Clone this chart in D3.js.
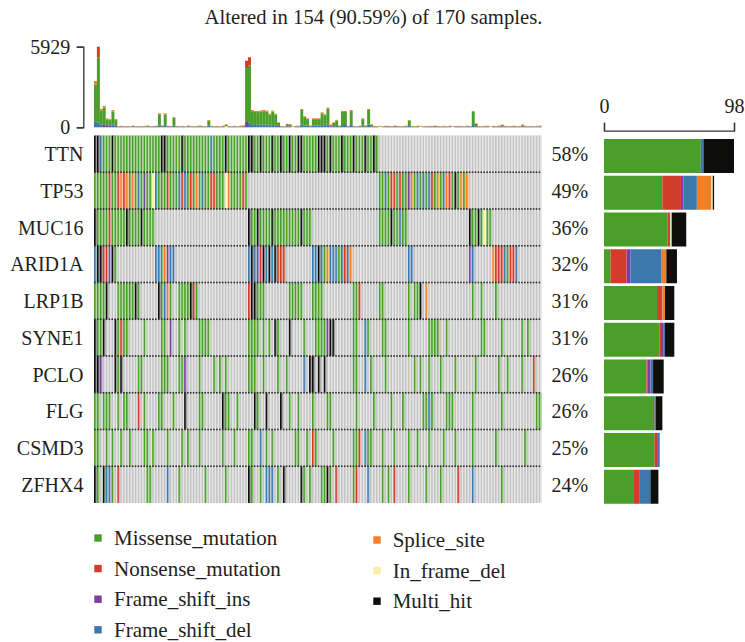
<!DOCTYPE html>
<html>
<head>
<meta charset="utf-8">
<script src="https://cdn.jsdelivr.net/npm/d3@7"></script>
<style>
  body { margin: 0; background: #fff; }
  svg text { font-family: "Liberation Serif", "DejaVu Serif", serif; fill: #231f20; }
</style>
</head>
<body>
<div id="chart"></div>
<script>
// genes shown in the oncoplot, top to bottom
const genes = ["TTN", "TP53", "MUC16", "ARID1A", "LRP1B", "SYNE1", "PCLO", "FLG", "CSMD3", "ZFHX4"];
const pctAltered = [58, 49, 36, 32, 31, 31, 26, 26, 25, 24];
const sampleCount = 154;
const topMax = 5929;
const rightMax = 98;

// variant classes (code -> name / colour)
const typeCodes = ["M", "N", "I", "D", "S", "F", "X"];
const typeNames = ["Missense_mutation", "Nonsense_mutation", "Frame_shift_ins", "Frame_shift_del",
                   "Splice_site", "In_frame_del", "Multi_hit"];
const typeColors = ["#4A9E2A", "#D33B2B", "#7B3F9E", "#3D78AC", "#F27E26", "#F8F1A4", "#0E0F0D"];

// one string per gene, one character per sample ('.' = not mutated)
const mutRows = [
  "XXDMMMXMMM MMMMMMMMMM MMMXXMMMMM XMMMMMMMMM DMMMMXMMMM MMMXXMMXMM MXMMXMMXMM XXMMMMMXXX MXMMMXMMMX MMMXMMXM.. .......... .......... .......... .......... .......... ....",
  "MMMMMNMMNS NSMSMDMIMM FDMMMNMMMD NDMNMSMDMM NNMMMFSMMM MNM....... .......... .......... .......... ........MM DMNNMNMMIS MDMDMDNMSM DSNMXMSMS. .......... .......... ....",
  "XMMMMNMMMM MXMMMMXMMM M......... .......... .......... ...XMMXMMM MXMMMMMMMM MXMMM..... .......... ........MM MMXMMDMM.. .......... .........X MMXMFMM... .......... ....",
  "DXXNNDXM.. .......... .DDMSIDD.. .......... .......... ...DXDINXD XDXNNN.... .....DDXDM SDDDMDNDS. .......... ........DD .......... .........I D......SNN NDMNND.... ....",
  "MMMMX...MM MMMMXM.... ..XMDSM..M MMMXNM.... .......... ...NXXMMM. .......MMM MM...MMMM. .........M MN......MM ........M. MMX.S..... .......... M..M....M. .......... ....",
  "XMMX...XMN MM.....M.. ...MM.I..M .M....MMMM .......... ...MMMM.M. M.XM...X.. ..M...MMMM IXX......M M..DM....M M.......M. .....MMMM. .M........ ...MM..... M......M.M ....",
  "XXI....XMX .....MM... ...MMM...M MI....M... .M.M.M.... ...MMM..M. ...M..M... ..D.XX.X.X .........M M..D.M.... M......... M.M..M...M ....M..... .M.......M ..M....M.. .N..",
  "MM.MMM..M. MM...N.M.. ..MM...M.. .X....MM.. ....XMM..M .....XM..X ....X..M.. M....M.... MM........ M.....M... ..M...M... ...MMDM... .MMM...... M......... M......... ..MM",
  "MM..M.M..M ..M....MM. M....M.... M.M...M... ....M...M. ...MM..D.M .M.......M M..M.NM... ..M......M MN.DMM...M ...M....M. .M...M.... M...M..... M.......M. ........M. ....",
  "XM.XDDM.N. ........MM .....D...M ........M. .....M.... ...XM..M.D DD.M.X.... .XM.M...MM XM.N.....M N...D....M .M.N....M. ....M....M .....N.... D......... M......... ...."
].map(s => s.replace(/ /g, ""));

// top bar: mutations per sample (bottom frame-shift part, missense, top truncating part)
const tmbLow = [400,350,200,220,150,140,200,140,50,60, 40,50,40,60,40,50,50,50,60,40,
  50,50,150,60,150,50,50,120,50,40, 50,40,50,50,40,50,60,50,40,100, 50,40,50,40,50,70,40,50,50,40,
  50,60,450,350,180,170,180,180,200,180, 150,180,150,90,50,40,70,70,40,50, 50,200,130,120,60,120,120,120,160,150,
  200,70,90,100,50,170,170,50,180,50, 40,50,120,60,200,70,50,40,50,40, 50,50,40,60,50,40,50,50,100,50,
  40,50,50,40,50,40,50,60,50,40, 50,40,50,50,40,50,50,40,50,50, 170,80,50,40,50,50,40,50,40,60,
  70,50,40,50,50,40,50,70,50,40, 50,40,50,50];
const tmbMis = [2750,4800,1050,1230,430,390,970,390,20,30, 20,30,30,30,20,25,20,30,50,30,
  30,40,810,60,800,40,30,560,30,30, 30,20,40,30,30,30,40,30,30,390, 30,30,30,20,40,110,30,30,30,20,
  40,60,3900,4200,1010,950,940,990,990,970, 780,970,780,240,30,30,140,140,30,30, 40,1070,620,480,60,480,480,480,870,740,
  1160,90,240,400,40,960,960,30,1010,30, 30,40,480,60,1070,110,30,30,30,20, 40,30,30,40,30,30,30,40,390,30,
  30,40,30,20,30,30,30,40,30,30, 30,20,40,30,30,30,30,20,40,30, 960,180,30,30,30,40,20,30,30,40,
  90,30,30,30,40,20,30,90,30,30, 30,20,30,40];
const tmbHigh = [250,779,100,120,80,70,100,70,20,20, 20,20,20,30,20,25,20,30,30,20,
  20,30,70,30,80,30,20,60,30,20, 20,20,30,20,20,30,30,20,20,50, 30,20,20,20,30,40,20,20,30,20,
  30,30,550,600,80,80,80,80,80,80, 70,80,70,40,20,20,40,40,20,30, 30,75,60,60,30,60,60,60,70,60,
  80,40,40,50,30,70,70,20,80,30, 20,30,60,30,80,40,20,20,30,20, 30,20,20,30,30,20,20,30,50,20,
  20,30,30,20,20,20,30,30,20,20, 30,20,30,20,20,30,20,20,30,20, 70,40,20,20,30,30,20,20,20,30,
  40,30,20,20,30,20,20,40,30,20, 20,20,30,30];
const lowType  = "DDDIIIDIII IIDIIIIDII IIDIDIIDII IIIDIIIIID IIIIIFIIII IIIDDDDDDD DDDIIIIIFI IDDDIDDDDD DIDDIDDIDI IIDIDIIIFI IIIIIIIIDI IIFIIIIIII IIIFIIIIII DIIIIIFIII IIIIIIIIII IIII".replace(/ /g, "");
const highType = "SNSSSSSSSS SSSNSSSSSS SSSSSSSSSS SSNSSSSSSS SSSSSSSSSS SSNNSSSSSS SSSSSSNSSS SSSSSSSSSS SSSSNSSSSS SSSSSSSSSS SNSSSSSSSS SSSSSNSSSS SSSSNSSSSS SSSSSSSNSS SSSSSNSSSS SSSS".replace(/ /g, "");

// right bar: counts per gene for each class
const rightM = [73, 44, 48, 5, 40, 42, 32, 37, 38, 22];
const rightN = [0, 14, 1, 12, 3, 1, 1, 1, 2, 5];
const rightI = [0, 2, 0, 3, 0, 2, 2, 0, 0, 0];
const rightD = [2, 10, 1, 23, 1, 1, 2, 1, 2, 8];
const rightS = [0, 11, 0, 4, 2, 0, 0, 0, 0, 0];
const rightF = [0, 1, 1, 0, 0, 0, 0, 0, 0, 0];
const rightX = [23, 1, 11, 8, 7, 7, 8, 5, 0, 6];

const legendLeft = ["M", "N", "I", "D"];
const legendRight = ["S", "F", "X"];

const width = 745, height = 642;
const svg = d3.select('#chart').append('svg')
              .attr('width', width)
              .attr('height', height);

const colorOf = d3.scaleOrdinal().domain(typeCodes).range(typeColors);
const nameOf = d3.scaleOrdinal().domain(typeCodes).range(typeNames);

const x = d3.scaleBand().domain(d3.range(sampleCount)).range([94, 541.5]);
const y = d3.scaleBand().domain(genes).range([135.5, 503]);
const yTop = d3.scaleLinear().domain([0, topMax]).range([127.3, 46.7]);
const xRight = d3.scaleLinear().domain([0, rightMax]).range([604, 734]);

// title
svg.append('text')
   .attr('x', 373.5).attr('y', 24)
   .attr('text-anchor', 'middle')
   .style('font-size', '20.7px')
   .text('Altered in 154 (90.59%) of 170 samples.');

// oncoplot cells
genes.forEach((g, gi) => {
  svg.append('g').selectAll('rect')
     .data(mutRows[gi].split(''))
     .enter().append('rect')
     .attr('x', (d, i) => x(i))
     .attr('y', y(g))
     .attr('width', x.bandwidth() + 0.05)
     .attr('height', y.bandwidth())
     .attr('fill', d => d === '.' ? '#C3C3C3' : colorOf(d));
});

// light gaps between sample columns
svg.append('g').selectAll('rect')
   .data(d3.range(sampleCount))
   .enter().append('rect')
   .attr('x', i => x(i) + x.bandwidth() - 1.3)
   .attr('y', y.range()[0])
   .attr('width', 1.3)
   .attr('height', y.range()[1] - y.range()[0])
   .attr('fill', '#fff')
   .attr('opacity', 0.62);

// dashed row separators
genes.slice(1).forEach(g => {
  svg.append('g').selectAll('rect')
     .data(d3.range(sampleCount))
     .enter().append('rect')
     .attr('x', i => x(i))
     .attr('y', y(g) - 0.8)
     .attr('width', x.bandwidth() - 1.3)
     .attr('height', 1.6)
     .attr('fill', '#2b2b2b');
});

// top bar plot (stacked per sample)
const topG = svg.append('g');
d3.range(sampleCount).forEach(i => {
  const parts = [
    [tmbLow[i], colorOf(lowType[i])],
    [tmbMis[i], colorOf('M')],
    [tmbHigh[i], colorOf(highType[i])]
  ];
  let base = 0;
  parts.forEach(([v, c]) => {
    topG.append('rect')
        .attr('x', x(i))
        .attr('y', yTop(base + v))
        .attr('width', x.bandwidth() + 0.05)
        .attr('height', yTop(base) - yTop(base + v))
        .attr('fill', c);
    base += v;
  });
});

const topAxis = svg.append('g')
   .attr('transform', 'translate(83.3,0)')
   .call(d3.axisLeft(yTop).tickValues([0, topMax]).tickSize(6.6).tickPadding(6.5).tickFormat(d3.format('d')));
topAxis.selectAll('text').style('font-size', '20px').attr('font-family', null);
topAxis.selectAll('path, line').attr('stroke', '#333').attr('stroke-width', 1.3);

// gene labels and percentages
svg.append('g').selectAll('text')
   .data(genes)
   .enter().append('text')
   .attr('x', 83.5)
   .attr('y', d => y(d) + y.bandwidth() / 2 + 7.3)
   .attr('text-anchor', 'end')
   .style('font-size', '20px')
   .text(d => d);

svg.append('g').selectAll('text')
   .data(pctAltered)
   .enter().append('text')
   .attr('x', 551.5)
   .attr('y', (d, i) => y(genes[i]) + y.bandwidth() / 2 + 7.3)
   .style('font-size', '20px')
   .text(d => d + '%');

// right bar plot
const rightTable = genes.map((g, i) => ({
  gene: g, M: rightM[i], N: rightN[i], I: rightI[i], D: rightD[i],
  S: rightS[i], F: rightF[i], X: rightX[i]
}));
const stacked = d3.stack().keys(typeCodes)(rightTable);

svg.append('g').selectAll('g')
   .data(stacked)
   .enter().append('g')
   .attr('fill', d => colorOf(d.key))
   .selectAll('rect')
   .data(d => d)
   .enter().append('rect')
   .attr('x', d => xRight(d[0]))
   .attr('y', d => y(d.data.gene) + 3.5)
   .attr('width', d => xRight(d[1]) - xRight(d[0]))
   .attr('height', 34);

const rightAxis = svg.append('g')
   .attr('transform', 'translate(0,130.7)')
   .call(d3.axisTop(xRight).tickValues([0, rightMax]).tickSize(8).tickPadding(9.5));
rightAxis.selectAll('text').style('font-size', '20px').attr('font-family', null);
rightAxis.selectAll('path, line').attr('stroke', '#333').attr('stroke-width', 1.3);

// legend
function drawLegend(codes, sqX, txtX, y0) {
  const item = svg.append('g').selectAll('g')
     .data(codes)
     .enter().append('g')
     .attr('transform', (d, i) => `translate(0, ${y0 + i * 30.6})`);
  item.append('rect')
      .attr('x', sqX).attr('y', -3.7)
      .attr('width', 7.4).attr('height', 7.4)
      .attr('fill', d => colorOf(d));
  item.append('text')
      .attr('x', txtX).attr('y', 7)
      .style('font-size', '21px')
      .text(d => nameOf(d));
}
drawLegend(legendLeft, 94.3, 114, 538);
drawLegend(legendRight, 373.3, 392.7, 540);
</script>
</body>
</html>
